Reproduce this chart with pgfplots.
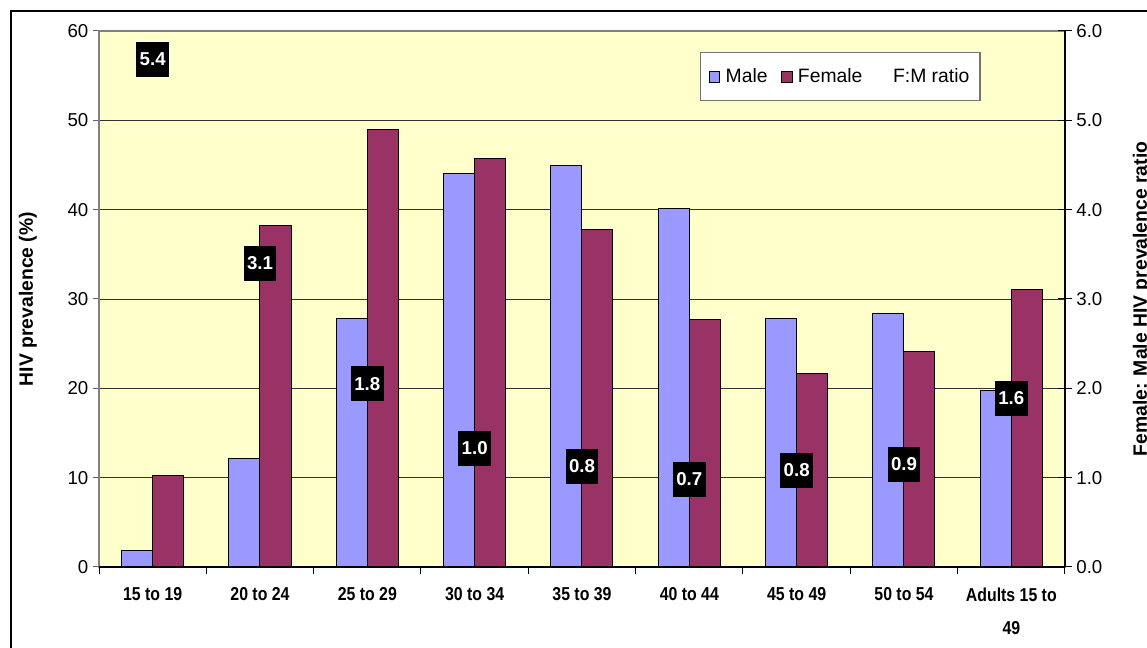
\documentclass[border=0pt]{standalone}
\usepackage{fontspec}
\setmainfont{Liberation Sans}
\newfontfamily\narrowfont{Liberation Sans}[FakeStretch=0.85]
\usepackage{pgfplots}
\pgfplotsset{compat=1.18}
\usepackage{pgfplotstable}
\definecolor{bgy}{HTML}{FFFFCC}
\definecolor{male}{HTML}{9999FF}
\definecolor{female}{HTML}{993366}

\pgfplotstableread{
x male female
0 1.9 10.2
1 12.2 38.2
2 27.8 49.0
3 44.0 45.7
4 44.9 37.8
5 40.1 27.7
6 27.8 21.7
7 28.4 24.1
8 19.8 31.1
}\prevdata

\pgfplotstableread{
x pos ratio
0 5.68 5.4
1 3.40 3.1
2 2.05 1.8
3 1.33 1.0
4 1.13 0.8
5 0.98 0.7
6 1.085 0.8
7 1.15 0.9
8 1.89 1.6
}\ratiodata

\pgfplotsset{
  sqlegend/.style={legend image code/.code={\draw[##1,/tikz/.cd,yshift=-4.1pt] (0pt,0pt) rectangle (8pt,8pt);}},
  common/.style={at={(74.25pt,60.75pt)}, anchor=south west, scale only axis,
    width=724.5pt, height=402pt, xmin=-0.5, xmax=8.5,
    /pgf/number format/assume math mode=true},
}

\begin{document}
\begin{tikzpicture}
\useasboundingbox (0pt,0pt) rectangle (860.25pt,486pt);
\clip (0pt,0pt) rectangle (860.25pt,486pt);
\fill[white] (0pt,0pt) rectangle (860.25pt,486pt);
\draw[black, line width=1.1pt] (8.25pt,-20pt) rectangle (900pt,477.75pt);

% main bar axis
\begin{axis}[common,
  ymin=0, ymax=60,
  xtick=\empty,
  ytick={0,10,...,60}, ytick pos=left,
  ytick align=outside, major tick length=4.5pt,
  tick style={black!60, line width=0.75pt},
  ymajorgrids, grid style={black!80, line width=0.7pt},
  axis background/.style={fill=bgy},
  axis line style={black!50, line width=1pt},
  yticklabel style={font=\fontsize{14}{16}\selectfont},
  ylabel={HIV prevalence (\%)},
  every axis y label/.style={at={(axis description cs:-0.0735,0.5)}, rotate=90, anchor=center,
    font=\fontsize{14.5}{17}\selectfont\bfseries},
  ybar=0pt, bar width=23.25pt,
  legend columns=3,
  legend style={at={(0.6222,0.9608)}, anchor=north west, draw=black!55, line width=1pt,
    fill=white, font=\fontsize{14.5}{17}\selectfont, inner xsep=6pt, inner ysep=10pt,
    /tikz/every odd column/.append style={column sep=2pt},
    /tikz/every even column/.append style={column sep=8pt}},
]
\addplot[fill=male, draw=black, line width=0.75pt, sqlegend] table[x=x,y=male]{\prevdata};
\addlegendentry{Male}
\addplot[fill=female, draw=black, line width=0.75pt, sqlegend] table[x=x,y=female]{\prevdata};
\addlegendentry{Female}
\addlegendimage{empty legend}
\addlegendentry{\hspace*{9pt}F:M ratio}
\end{axis}

% x axis with category labels
\begin{axis}[common,
  ymin=0, ymax=1,
  axis x line*=bottom, axis y line=none,
  axis line style={black, line width=1pt},
  xtick={-0.5,0.5,...,8.5}, x tick label as interval,
  xticklabels={15 to 19, 20 to 24, 25 to 29, 30 to 34, 35 to 39, 40 to 44, 45 to 49, 50 to 54, {Adults 15 to\\49}},
  xticklabel style={font=\narrowfont\bfseries\fontsize{14}{25}\selectfont, align=center, anchor=north, yshift=-7pt},
  xtick align=outside, major tick length=5pt,
  tick style={black, line width=0.75pt},
]
\end{axis}

% right ratio axis
\begin{axis}[common,
  ymin=0, ymax=6,
  axis y line*=right, axis x line=none,
  axis line style={black, line width=1pt},
  ytick={0,1,...,6},
  yticklabel style={font=\fontsize{14}{16}\selectfont,
    /pgf/number format/.cd, fixed, fixed zerofill, precision=1},
  ytick align=center, major tick length=10pt,
  tick style={black, line width=0.75pt},
  ylabel={Female: Male HIV prevalence ratio},
  every axis y label/.style={at={(axis description cs:1.0797,0.5)}, rotate=90, anchor=center,
    font=\fontsize{14.5}{17}\selectfont\bfseries},
]
\addplot[draw=none, mark=none, nodes near coords, point meta=explicit symbolic,
  every node near coord/.append style={anchor=center, fill=black, text=white,
    font=\fontsize{14}{16}\selectfont\bfseries, minimum height=26.25pt, inner xsep=2.6pt, inner ysep=0pt}]
  table[x=x,y=pos,meta=ratio]{\ratiodata};
\end{axis}
\end{tikzpicture}
\end{document}
